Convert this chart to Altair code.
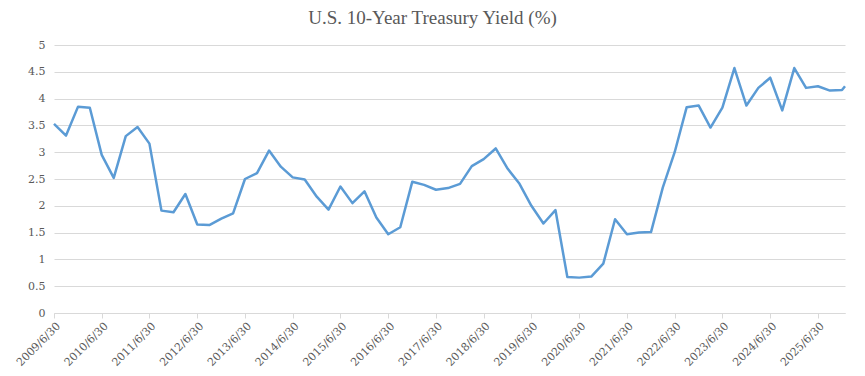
import altair as alt
import pandas as pd

dates = [
    "2009/06/30", "2009/09/30", "2009/12/31", "2010/03/31",
    "2010/06/30", "2010/09/30", "2010/12/31", "2011/03/31",
    "2011/06/30", "2011/09/30", "2011/12/31", "2012/03/31",
    "2012/06/30", "2012/09/30", "2012/12/31", "2013/03/31",
    "2013/06/30", "2013/09/30", "2013/12/31", "2014/03/31",
    "2014/06/30", "2014/09/30", "2014/12/31", "2015/03/31",
    "2015/06/30", "2015/09/30", "2015/12/31", "2016/03/31",
    "2016/06/30", "2016/09/30", "2016/12/31", "2017/03/31",
    "2017/06/30", "2017/09/30", "2017/12/31", "2018/03/31",
    "2018/06/30", "2018/09/30", "2018/12/31", "2019/03/31",
    "2019/06/30", "2019/09/30", "2019/12/31", "2020/03/31",
    "2020/06/30", "2020/09/30", "2020/12/31", "2021/03/31",
    "2021/06/30", "2021/09/30", "2021/12/31", "2022/03/31",
    "2022/06/30", "2022/09/30", "2022/12/31", "2023/03/31",
    "2023/06/30", "2023/09/30", "2023/12/31", "2024/03/31",
    "2024/06/30", "2024/09/30", "2024/12/31", "2025/03/31",
    "2025/06/30", "2025/09/30", "2025/12/31", "2026/01/23",
]

yields = [
    3.53, 3.31, 3.85, 3.83,
    2.95, 2.52, 3.30, 3.47,
    3.16, 1.91, 1.88, 2.22,
    1.65, 1.64, 1.76, 1.86,
    2.50, 2.61, 3.03, 2.73,
    2.53, 2.49, 2.17, 1.93,
    2.36, 2.05, 2.27, 1.78,
    1.47, 1.60, 2.45, 2.39,
    2.30, 2.33, 2.41, 2.74,
    2.87, 3.07, 2.69, 2.41,
    2.00, 1.67, 1.92, 0.67,
    0.66, 0.68, 0.92, 1.75,
    1.47, 1.50, 1.51, 2.34,
    3.00, 3.84, 3.87, 3.46,
    3.83, 4.57, 3.87, 4.20,
    4.39, 3.78, 4.57, 4.20,
    4.23, 4.15, 4.16, 4.23,
]

tick_years = list(range(2009, 2026))
y_ticks = [0, 0.5, 1, 1.5, 2, 2.5, 3, 3.5, 4, 4.5, 5]

df = pd.DataFrame({"date": dates, "yield": yields})

font = "DejaVu Serif"
label_color = "#595959"
grid_color = "#d9d9d9"

chart = (
    alt.Chart(df)
    .mark_line(color="#5B9BD5", strokeWidth=2.5, strokeJoin="round")
    .encode(
        x=alt.X(
            "date:T",
            scale=alt.Scale(
                domain=[
                    alt.DateTime(year=2009, month=6, date=30),
                    alt.DateTime(year=2026, month=1, date=23),
                ],
                nice=False,
            ),
            axis=alt.Axis(
                title=None,
                values=[alt.DateTime(year=y, month=6, date=30) for y in tick_years],
                format="%Y/%-m/%d",
                labelAngle=-45,
                labelFont=font,
                labelFontSize=11,
                labelColor=label_color,
                grid=False,
                domainColor=grid_color,
                tickColor=grid_color,
                tickSize=5,
                labelPadding=2,
            ),
        ),
        y=alt.Y(
            "yield:Q",
            scale=alt.Scale(domain=[0, 5], nice=False),
            axis=alt.Axis(
                title=None,
                values=y_ticks,
                format="~g",
                labelFont=font,
                labelFontSize=11,
                labelColor=label_color,
                domain=False,
                ticks=False,
                labelPadding=9,
                gridColor=grid_color,
                gridWidth=1,
            ),
        ),
    )
    .properties(
        width=791,
        height=268,
        padding={"left": 46, "top": 37, "right": 10, "bottom": 55},
        autosize=alt.AutoSizeParams(type="none"),
        title=alt.TitleParams(
            "U.S. 10-Year Treasury Yield (%)",
            font="Liberation Serif",
            fontSize=19,
            fontWeight="normal",
            color="#595959",
            anchor="middle",
            dx=-17,
            offset=11,
        ),
    )
    .configure_view(stroke=None)
)

chart.save("out.html", embed_options={"renderer": "svg", "actions": False})
